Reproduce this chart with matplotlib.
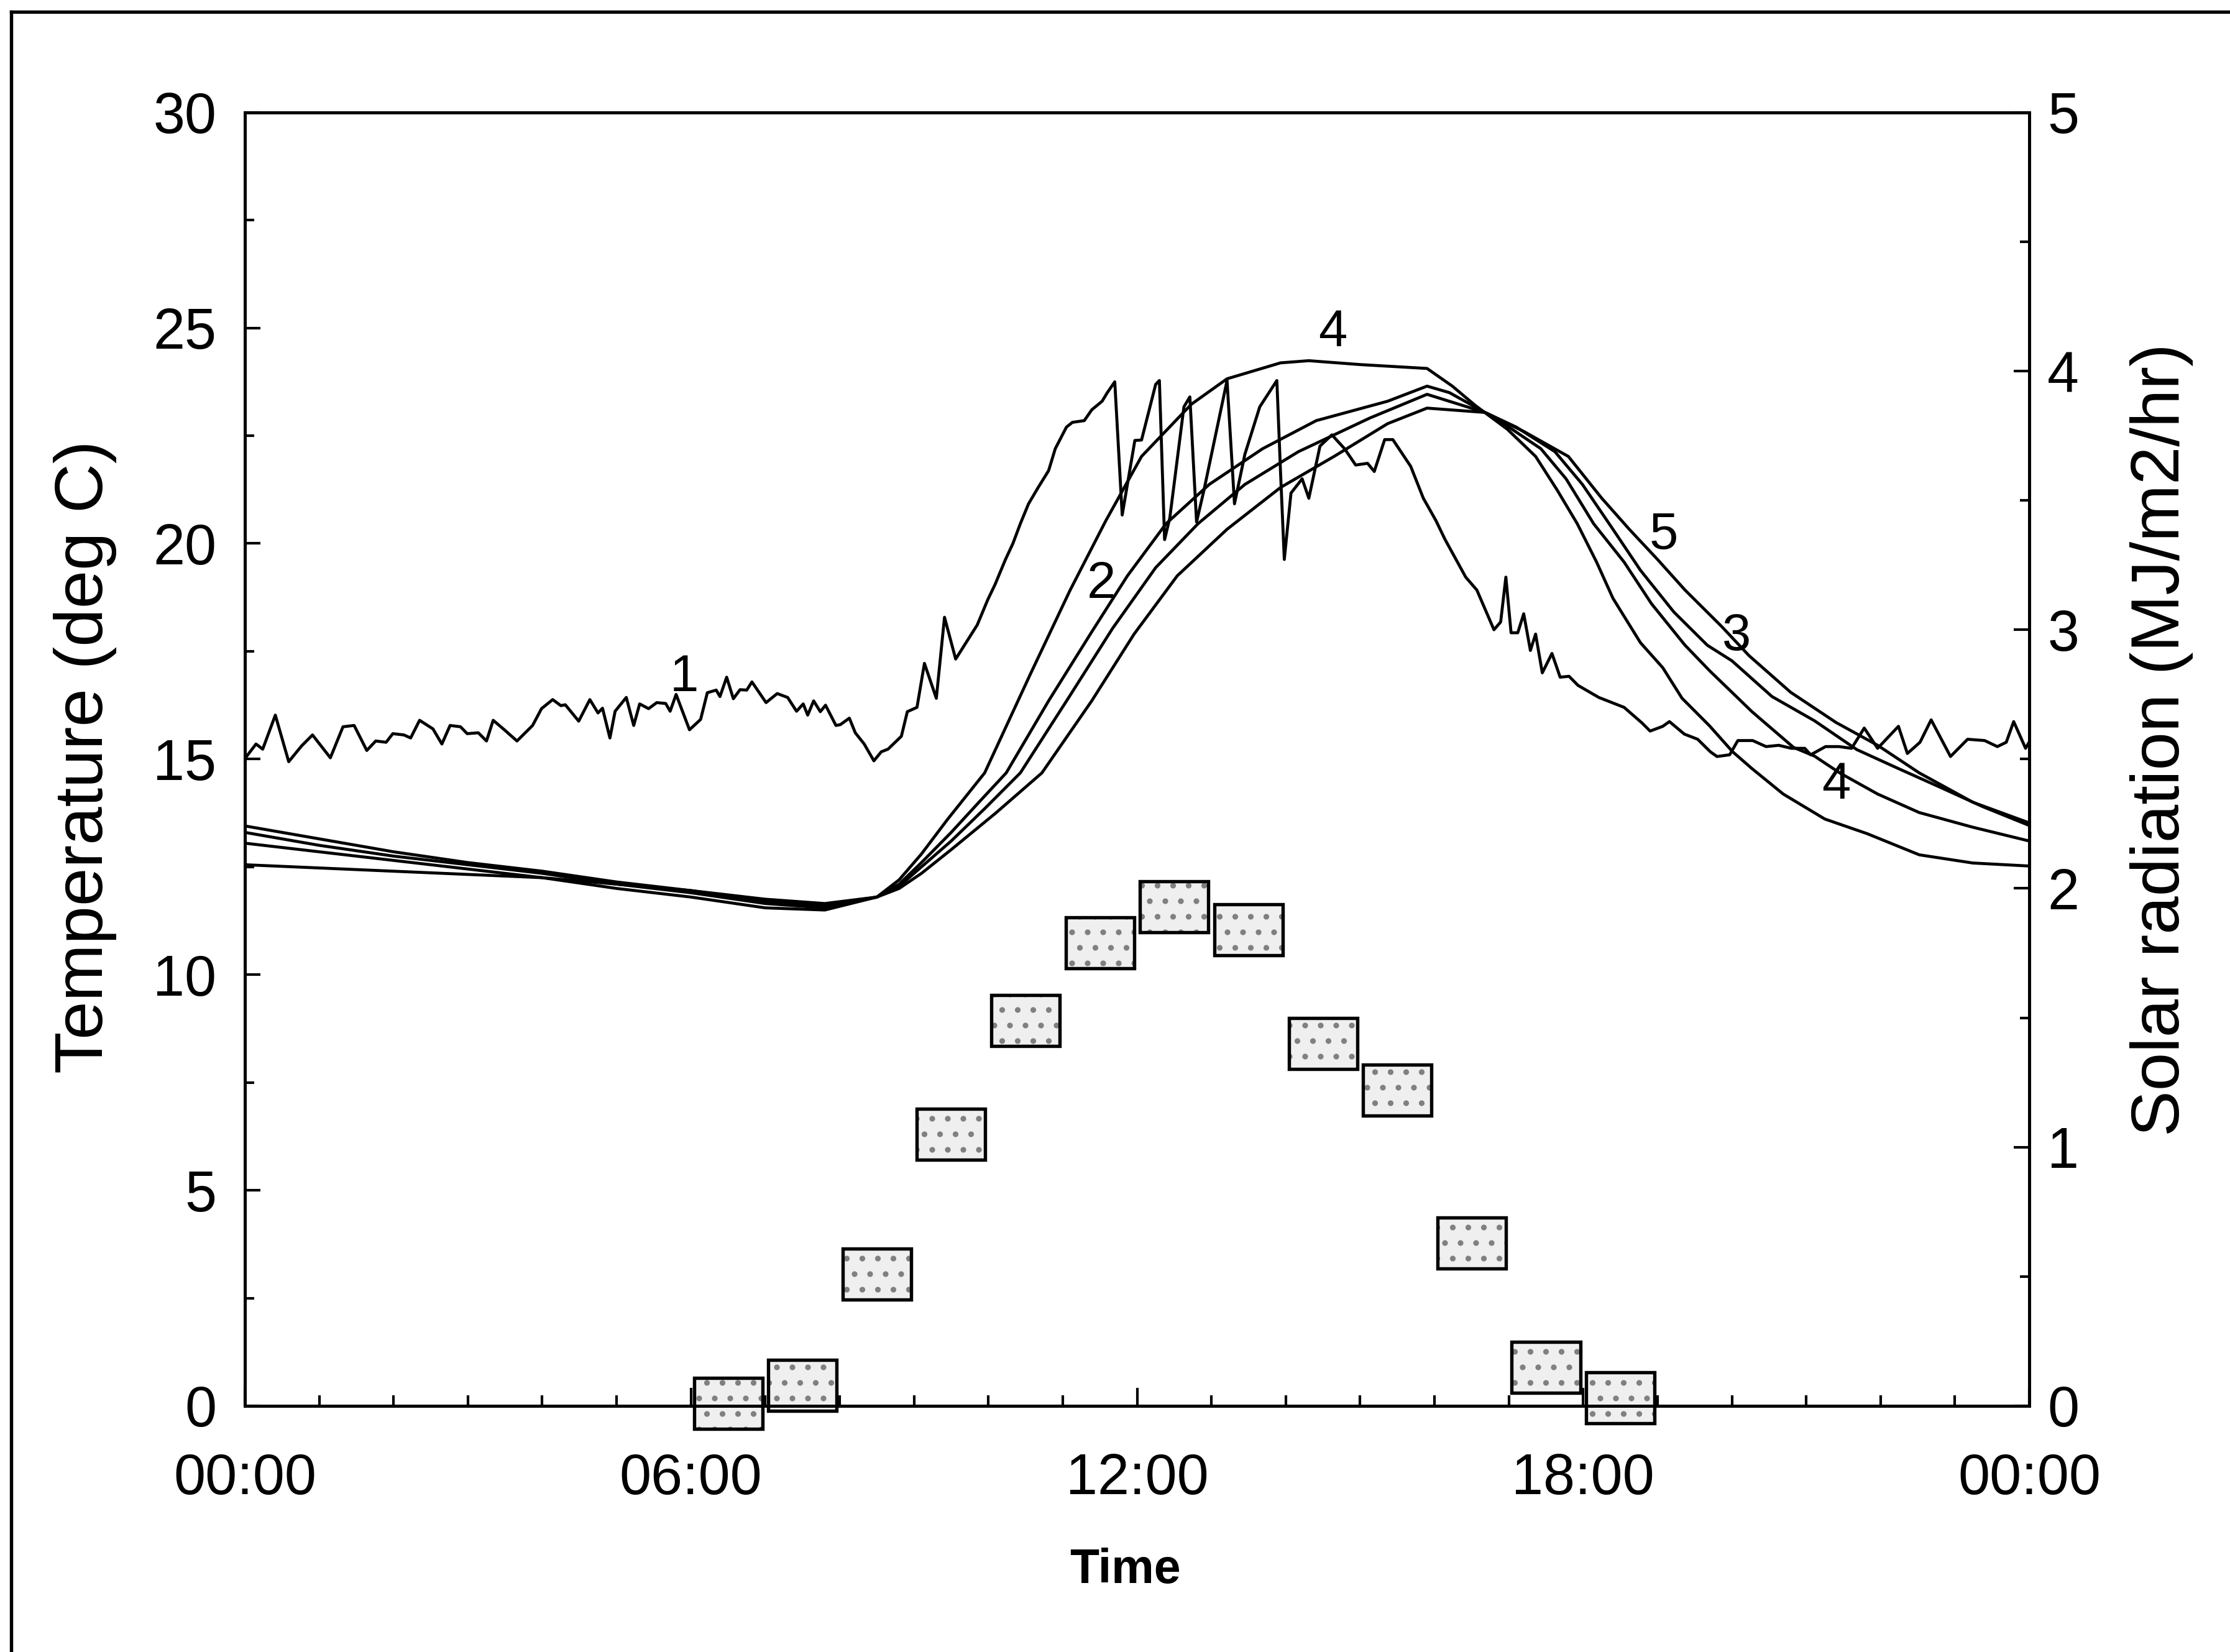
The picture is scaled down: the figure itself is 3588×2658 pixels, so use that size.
import numpy as np
import matplotlib
matplotlib.use("Agg")
import matplotlib.pyplot as plt
from matplotlib.lines import Line2D

plt.rcParams['font.family'] = ['Liberation Sans', 'DejaVu Sans']

# ---- data ----
# curve 1 (noisy)
t1 = [0, 0.15, 0.24, 0.41, 0.59, 0.76, 0.91, 1.15, 1.32, 1.47, 1.64, 1.76, 1.9, 1.99, 2.14, 2.23, 2.35,
      2.53, 2.65, 2.76, 2.9, 2.99, 3.14, 3.25, 3.34, 3.49, 3.66, 3.87, 3.99, 4.14, 4.25, 4.31, 4.49, 4.64,
      4.75, 4.81, 4.91, 4.98, 5.13, 5.23, 5.31, 5.43, 5.54, 5.66, 5.72, 5.8, 5.98, 6.13, 6.22, 6.34, 6.39,
      6.48, 6.57, 6.66, 6.75, 6.82, 7.01, 7.16, 7.3, 7.42, 7.51, 7.57, 7.65, 7.74, 7.81, 7.95, 8.01, 8.13,
      8.21, 8.33, 8.46, 8.56, 8.65, 8.83, 8.91, 9.04, 9.14, 9.3, 9.41, 9.56, 9.85, 9.99, 10.09, 10.23,
      10.33, 10.43, 10.54, 10.67, 10.81, 10.9, 11.05, 11.13, 11.29, 11.39, 11.53, 11.6, 11.7, 11.8, 11.97,
      12.06, 12.25, 12.3, 12.37, 12.44, 12.63, 12.71, 12.8, 12.9, 13.21, 13.31, 13.45, 13.65, 13.88,
      13.93, 13.98, 14.07, 14.22, 14.31, 14.46, 14.62, 14.79, 14.94, 15.1, 15.19, 15.33, 15.44, 15.68,
      15.85, 16.02, 16.14, 16.42, 16.57, 16.8, 16.89, 16.96, 17.03, 17.12, 17.2, 17.29, 17.36, 17.45,
      17.58, 17.69, 17.81, 17.93, 18.21, 18.55, 18.79, 18.9, 19.07, 19.16, 19.36, 19.54, 19.71, 19.8,
      19.97, 20.08, 20.28, 20.46, 20.63, 20.8, 20.98, 21.06, 21.26, 21.44, 21.61, 21.78, 21.96, 22.24,
      22.36, 22.53, 22.68, 22.94, 23.17, 23.4, 23.57, 23.69, 23.79, 23.95, 24.0]
T1 = [15.01, 15.35, 15.23, 16.02, 14.94, 15.30, 15.56, 15.03, 15.75, 15.78, 15.2, 15.42, 15.39, 15.59,
      15.56, 15.49, 15.9, 15.7, 15.35, 15.78, 15.75, 15.59, 15.61, 15.42, 15.9, 15.68, 15.42, 15.78, 16.17,
      16.38, 16.24, 16.26, 15.88, 16.38, 16.07, 16.18, 15.49, 16.11, 16.43, 15.78, 16.28, 16.17, 16.31,
      16.29, 16.11, 16.5, 15.68, 15.92, 16.54, 16.6, 16.45, 16.9, 16.4, 16.61, 16.6, 16.79, 16.31, 16.52,
      16.43, 16.11, 16.28, 16.02, 16.35, 16.1, 16.25, 15.78, 15.8, 15.95, 15.61, 15.35, 14.96, 15.17,
      15.23, 15.53, 16.1, 16.2, 17.22, 16.41, 18.29, 17.32, 18.11, 18.69, 19.05, 19.63, 20.0, 20.46, 20.92,
      21.3, 21.69, 22.2, 22.7, 22.81, 22.85, 23.1, 23.3, 23.5, 23.75, 20.66, 22.39, 22.4, 23.69, 23.78,
      20.09, 20.59, 23.17, 23.4, 20.5, 21.24, 23.78, 20.92, 22.07, 23.17, 23.78, 21.63, 19.63, 21.17, 21.5,
      21.05, 22.26, 22.52, 22.2, 21.82, 21.86, 21.67, 22.41, 22.41, 21.79, 21.05, 20.53, 20.1, 19.22,
      18.92, 18.0, 18.18, 19.22, 17.93, 17.93, 18.37, 17.52, 17.9, 17.0, 17.45, 16.9, 16.92, 16.71, 16.43,
      16.2, 15.84, 15.65, 15.76, 15.87, 15.58, 15.46, 15.17, 15.06, 15.1, 15.43, 15.43, 15.29, 15.32,
      15.25, 15.25, 15.1, 15.29, 15.29, 15.25, 15.72, 15.25, 15.76, 15.13, 15.39, 15.91, 15.06, 15.46,
      15.43, 15.29, 15.39, 15.87, 15.25, 15.4]

# curve 4 (warms first, highest peak, coolest at the end)
t4 = [0, 1, 2, 3, 4, 5, 6, 7, 7.8, 8.5, 8.8, 9.1, 9.45, 9.95, 10.57, 11.1, 11.58, 12.06, 12.73, 13.21,
      13.93, 14.31, 15.0, 15.9, 16.24, 16.55, 16.98, 17.36, 17.65, 17.92, 18.18, 18.4, 18.77, 19.07, 19.33,
      19.7, 20.01, 20.27, 20.69, 21.25, 21.82, 22.52, 23.24, 24.0]
T4 = [13.3, 13.0, 12.75, 12.55, 12.35, 12.1, 11.9, 11.65, 11.55, 11.8, 12.2, 12.8, 13.6, 14.68, 16.99,
      18.92, 20.53, 22.02, 23.23, 23.82, 24.19, 24.24, 24.15, 24.06, 23.65, 23.2, 22.65, 22.02, 21.24,
      20.46, 19.57, 18.73, 17.7, 17.12, 16.41, 15.77, 15.17, 14.78, 14.19, 13.61, 13.27, 12.78, 12.59, 12.52]

# curve 2
t2 = [0, 1, 2, 3, 4, 5, 6, 7, 7.8, 8.5, 8.8, 9.1, 9.5, 9.9, 10.24, 10.81, 11.39, 11.87, 12.39, 12.97,
      13.69, 14.41, 15.37, 15.9, 16.2, 16.68, 17.0, 17.43, 17.77, 18.14, 18.55, 18.92, 19.37, 19.7, 20.27,
      20.83, 21.11, 21.45, 21.96, 22.52, 23.24, 24.0]
T2 = [13.45, 13.15, 12.85, 12.6, 12.4, 12.15, 11.95, 11.7, 11.6, 11.8, 12.1, 12.6, 13.3, 14.05, 14.68,
      16.35, 17.95, 19.25, 20.46, 21.37, 22.2, 22.85, 23.3, 23.65, 23.5, 23.04, 22.7, 22.2, 21.5, 20.46,
      19.57, 18.6, 17.64, 17.05, 16.1, 15.27, 15.07, 14.68, 14.19, 13.76, 13.42, 13.1]

# curve 3
t3 = [0, 2, 4, 6, 7, 7.8, 8.5, 8.8, 9.1, 9.5, 9.95, 10.43, 11.1, 11.67, 12.25, 12.82, 13.45, 14.17, 15.13,
      15.9, 16.68, 17.1, 17.62, 17.99, 18.4, 18.77, 19.22, 19.67, 20.0, 20.54, 21.11, 21.68, 22.24, 22.81,
      23.37, 24.0]
T3 = [12.55, 12.4, 12.25, 11.95, 11.75, 11.65, 11.8, 12.05, 12.5, 13.1, 13.85, 14.68, 16.48, 18.03,
      19.44, 20.46, 21.37, 22.13, 22.91, 23.46, 23.04, 22.7, 22.13, 21.37, 20.33, 19.38, 18.41, 17.64,
      17.28, 16.45, 15.89, 15.22, 14.78, 14.34, 13.9, 13.46]

# curve 5
t5 = [0, 1, 2, 3, 4, 5, 6, 7, 7.8, 8.5, 8.8, 9.1, 9.5, 10.1, 10.72, 11.39, 11.96, 12.54, 13.21, 13.93,
      14.65, 15.37, 15.9, 16.68, 17.2, 17.8, 18.25, 18.62, 19.0, 19.37, 19.86, 20.23, 20.79, 21.4, 21.96,
      22.52, 23.24, 24.0]
T5 = [13.05, 12.85, 12.65, 12.45, 12.25, 12.0, 11.8, 11.55, 11.5, 11.8, 12.0, 12.35, 12.9, 13.75, 14.68,
      16.35, 17.9, 19.25, 20.33, 21.3, 22.02, 22.78, 23.14, 23.04, 22.6, 22.02, 21.05, 20.33, 19.63,
      18.92, 18.08, 17.4, 16.55, 15.85, 15.32, 14.68, 14.0, 13.52]

# hourly solar radiation (MJ/m2/hr), plotted at mid-hour
rad_hours = [6.5, 7.5, 8.5, 9.5, 10.5, 11.5, 12.5, 13.5, 14.5, 15.5, 16.5, 17.5, 18.5]
rad_vals = [0.01, 0.08, 0.51, 1.05, 1.49, 1.79, 1.93, 1.84, 1.40, 1.22, 0.63, 0.15, 0.03]

# curve number labels: (text, hour, temperature)
curve_labels = [("1", 5.91, 16.9), ("2", 11.52, 19.05), ("4", 14.63, 24.9),
                ("5", 19.08, 20.2), ("3", 20.06, 17.85), ("4", 21.4, 14.4)]

x_ticks = [0, 6, 12, 18, 24]
x_ticklabels = ["00:00", "06:00", "12:00", "18:00", "00:00"]

# ---- figure ----
fig = plt.figure(figsize=(11.96, 8.86), dpi=300)
ax = fig.add_axes([0.1098, 0.149, 0.8002, 0.783])
ax2 = ax.twinx()

lw = 1.15
for t, T in [(t1, T1), (t4, T4), (t2, T2), (t3, T3), (t5, T5)]:
    ax.plot(t, T, color="black", lw=lw, zorder=3)

box_w = 0.92
box_h = 0.197
rad = np.array(rad_vals)
ax2.bar(rad_hours, box_h, width=box_w, bottom=rad - box_h / 2, facecolor="#efefef",
        edgecolor="#808080", linewidth=0, hatch="..", clip_on=False, zorder=2)
ax2.bar(rad_hours, box_h, width=box_w, bottom=rad - box_h / 2, facecolor="none",
        edgecolor="black", linewidth=1.3, clip_on=False, zorder=2)

for txt, h, T in curve_labels:
    ax.text(h, T, txt, fontsize=20, ha="center", va="center", zorder=4)

ax.set_xlim(0, 24)
ax.set_ylim(0, 30)
ax2.set_ylim(0, 5)

ax.set_xticks(x_ticks)
ax.set_xticklabels(x_ticklabels)
ax.set_xticks(np.arange(0, 25, 1), minor=True)
ax.set_yticks(np.arange(0, 31, 5))
ax.set_yticks(np.arange(0, 30.1, 2.5), minor=True)
ax2.set_yticks(np.arange(0, 6, 1))
ax2.set_yticks(np.arange(0, 5.01, 0.5), minor=True)

ax.tick_params(axis="x", which="major", direction="in", length=7, width=1.0, labelsize=22, pad=18)
ax.tick_params(axis="x", which="minor", direction="in", length=4, width=1.0)
ax.tick_params(axis="y", which="major", direction="in", length=6, width=1.0, labelsize=22, pad=11)
ax.tick_params(axis="y", which="minor", direction="in", length=3.5, width=1.0)
ax2.tick_params(axis="y", which="major", direction="in", length=6, width=1.0, labelsize=22, pad=7)
ax2.tick_params(axis="y", which="minor", direction="in", length=3.5, width=1.0)

for a in (ax, ax2):
    for s in a.spines.values():
        s.set_linewidth(1.2)

fig.text(137 / 3588, 1 - 1218 / 2658, "Temperature (deg C)", fontsize=26.5, rotation=90,
         ha="center", va="center")
fig.text(3478 / 3588, 1 - 1190 / 2658, "Solar radiation (MJ/m2/hr)", fontsize=26.5, rotation=90,
         ha="center", va="center")
fig.text(1810 / 3588, 1 - 2527 / 2658, "Time", fontsize=18.5, fontweight="bold",
         ha="center", va="center")

# frame lines along the left and top edges of the page
fig.add_artist(Line2D([18 / 3588, 18 / 3588], [0, 1 - 19 / 2658], transform=fig.transFigure,
                      color="black", lw=1.3))
fig.add_artist(Line2D([18 / 3588, 1], [1 - 19 / 2658, 1 - 19 / 2658], transform=fig.transFigure,
                      color="black", lw=1.3))

fig.savefig("out.png", dpi=300, facecolor="white")
